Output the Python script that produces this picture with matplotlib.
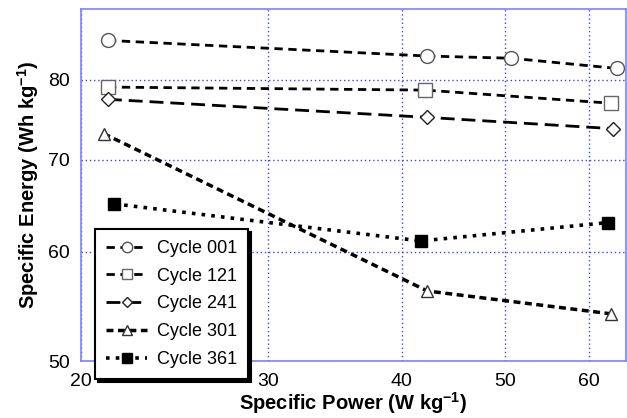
import matplotlib
matplotlib.use("Agg")
import matplotlib.pyplot as plt
from matplotlib.ticker import FixedLocator, FixedFormatter, NullLocator

plt.rcParams['font.family'] = ['Liberation Sans', 'DejaVu Sans']
plt.rcParams['mathtext.fontset'] = 'custom'
plt.rcParams['mathtext.rm'] = 'Liberation Sans'
plt.rcParams['mathtext.bf'] = 'Liberation Sans:bold'

# Data
p001 = [21.2, 42.3, 50.7, 63.7]
e001 = [85.4, 83.2, 82.9, 81.5]
p121 = [21.2, 42.1, 62.9]
e121 = [79.0, 78.6, 76.9]
p241 = [21.2, 42.3, 63.2]
e241 = [77.4, 75.1, 73.7]
p301 = [21.0, 42.3, 62.9]
e301 = [73.1, 56.2, 54.1]
p361 = [21.5, 41.7, 62.5]
e361 = [65.0, 61.1, 63.0]
labels = ['Cycle 001', 'Cycle 121', 'Cycle 241', 'Cycle 301', 'Cycle 361']
xticks = [20, 30, 40, 50, 60]
yticks = [50, 60, 70, 80]

fig = plt.figure(figsize=(6.27, 4.18), dpi=100)
ax = fig.add_axes([81/627, 1-361/418, (626-81)/627, (361-9)/418])

ax.plot(p001, e001, color='black', lw=2, dashes=(3, 2), marker='o', ms=10,
        mfc='white', mec='#555555', mew=1, label=labels[0])
ax.plot(p121, e121, color='black', lw=2, dashes=(3, 2), marker='s', ms=10,
        mfc='white', mec='#666666', mew=1, label=labels[1])
ax.plot(p241, e241, color='black', lw=2, dashes=(5, 2.5), marker='D', ms=7,
        mfc='white', mec='#222222', mew=1, label=labels[2])
ax.plot(p301, e301, color='black', lw=2.5, dashes=(2, 1.3), marker='^', ms=9,
        mfc='white', mec='#333333', mew=1, label=labels[3])
ax.plot(p361, e361, color='black', lw=2.6, dashes=(1, 1.7), marker='s', ms=9,
        mfc='black', mec='black', mew=1, label=labels[4])

ax.set_xscale('log')
ax.set_yscale('log')
ax.set_xlim(20, 65)
ax.set_ylim(50, 90)
ax.xaxis.set_major_locator(FixedLocator(xticks))
ax.xaxis.set_major_formatter(FixedFormatter([str(t) for t in xticks]))
ax.xaxis.set_minor_locator(NullLocator())
ax.yaxis.set_major_locator(FixedLocator(yticks))
ax.yaxis.set_major_formatter(FixedFormatter([str(t) for t in yticks]))
ax.yaxis.set_minor_locator(NullLocator())
ax.tick_params(length=0, labelsize=14, pad=8)
ax.tick_params(axis='x', pad=9)

ax.grid(True, color='#4040ff', ls=(0, (1, 2)), lw=1)
for s in ax.spines.values():
    s.set_color('#8080ff')
    s.set_linewidth(1.2)

ax.set_xlabel(r'Specific Power (W kg$^{\mathbf{-1}}$)', fontsize=14.5,
              fontweight='bold', labelpad=0)
ax.set_ylabel(r'Specific Energy (Wh kg$^{\mathbf{-1}}$)', fontsize=14.5,
              fontweight='bold', labelpad=5)

leg = fig.legend(loc='upper left', bbox_to_anchor=(95/627, 1-229/418),
                 borderaxespad=0, fontsize=13, handlelength=2.3,
                 handletextpad=0.55, labelspacing=0.6, borderpad=0.6,
                 markerscale=0.75,
                 fancybox=False, edgecolor='black', framealpha=1,
                 shadow={'color': 'black', 'alpha': 1})
leg.get_frame().set_linewidth(1.5)

fig.savefig('out.png', dpi=100)
